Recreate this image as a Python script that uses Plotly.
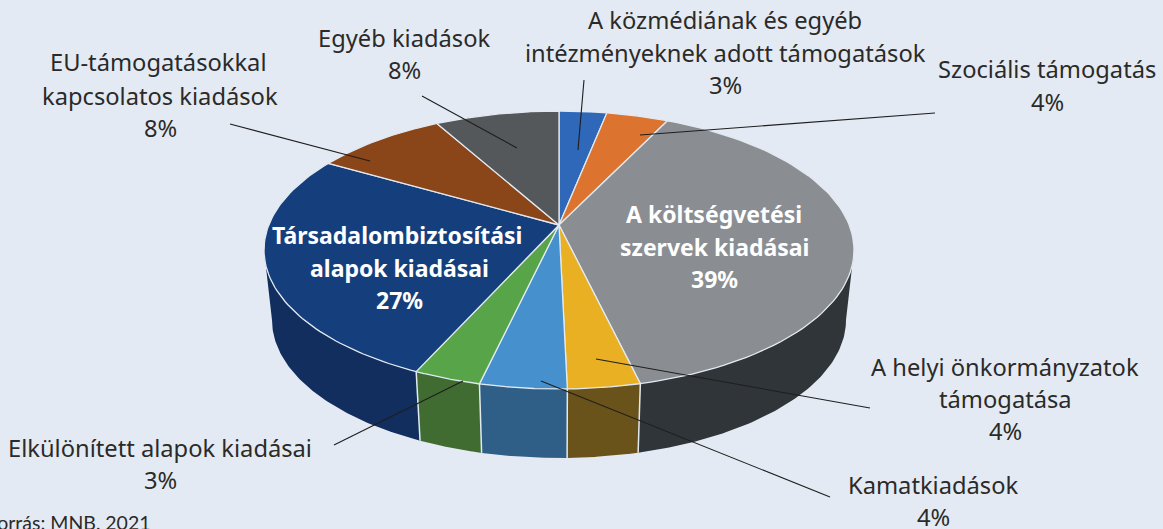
import numpy as np
import plotly.graph_objects as go

categories = ["A közmédiának és egyéb intézményeknek adott támogatások", "Szociális támogatás",
              "A költségvetési szervek kiadásai", "A helyi önkormányzatok támogatása", "Kamatkiadások",
              "Elkülönített alapok kiadásai", "Társadalombiztosítási alapok kiadásai",
              "EU-támogatásokkal kapcsolatos kiadások", "Egyéb kiadások"]
printed_percent = [3, 4, 39, 4, 4, 3, 27, 8, 8]
# slice sizes as they appear in the drawing (perspective shifts them a little from the printed values)
drawn_share = [2.6, 3.4, 39.6, 4.0, 4.8, 3.7, 27.7, 7.5, 6.8]
top_colors = ["#2F67B9", "#DC7430", "#8A8E93", "#E8B022", "#4690CE", "#58A549", "#153F7C", "#8A4519", "#54585B"]
side_colors = ["#1C3E70", "#84461D", "#2F3539", "#69531A", "#2F5F87", "#406C31", "#122E5E", "#532A11", "#323537"]

BG = "#E4EAF3"
INK = "#2B2A29"
SEP = "#E2E9F0"
CX, CY, RX, RY = 559, 250, 295, 139          # top ellipse
APEX = (559, 225)                            # perspective centre of the pie
BX, BY, BRX, BRY = 559, 320, 287, 138        # bottom ellipse

def top_pt(t):
    t = np.radians(t)
    return CX + RX * np.sin(t), CY - RY * np.cos(t)

def bot_pt(t):
    t = np.radians(t)
    return BX + BRX * np.sin(t), BY - BRY * np.cos(t)

edges = np.concatenate([[0], np.cumsum(drawn_share)]) / sum(drawn_share) * 360

fig = go.Figure()

# side walls (only the front half is visible)
for a, b, col in zip(edges[:-1], edges[1:], side_colors):
    a2, b2 = max(a, 90), min(b, 270)
    if a2 >= b2:
        continue
    t = np.linspace(a2, b2, 80)
    x1, y1 = top_pt(t)
    x2, y2 = bot_pt(t[::-1])
    fig.add_trace(go.Scatter(x=np.r_[x1, x2], y=np.r_[y1, y2], mode="lines", fill="toself",
                             fillcolor=col, line=dict(width=0), hoverinfo="skip", showlegend=False))

# light seams between the wall pieces
for e in edges[1:-1]:
    if 90 < e < 270:
        x1, y1 = top_pt(e)
        x2, y2 = bot_pt(e)
        fig.add_trace(go.Scatter(x=[x1, x2], y=[y1, y2], mode="lines", line=dict(color=SEP, width=1.5),
                                 hoverinfo="skip", showlegend=False))

# top faces
for a, b, col, name in zip(edges[:-1], edges[1:], top_colors, categories):
    t = np.linspace(a, b, 80)
    x, y = top_pt(t)
    fig.add_trace(go.Scatter(x=np.r_[APEX[0], x, APEX[0]], y=np.r_[APEX[1], y, APEX[1]], mode="lines",
                             fill="toself", fillcolor=col, line=dict(color=SEP, width=1.3),
                             name=name, showlegend=False))

ann = []
def txt(s, x, y, size=23.7, color=INK, weight=400, xanchor="center", family="Noto Sans"):
    ann.append(dict(x=x, y=y, text=s, showarrow=False, xanchor=xanchor, yanchor="middle",
                    font=dict(family=family, size=size, color=color, weight=weight), xref="x", yref="y"))

p = [f"{v}%" for v in printed_percent]
for s, x, y in [("A közmédiának és egyéb", 725, 20), ("intézményeknek adott támogatások", 725, 53), (p[0], 725, 85),
                ("Szociális támogatás", 1047, 69), (p[1], 1047, 102),
                ("A helyi önkormányzatok", 1005, 367), ("támogatása", 1005, 399), (p[3], 1005, 431),
                ("Kamatkiadások", 933, 485), (p[4], 933, 517),
                ("Elkülönített alapok kiadásai", 160, 448), (p[5], 160, 480),
                ("EU-támogatásokkal", 158, 62), ("kapcsolatos kiadások", 160, 96), (p[7], 160, 128),
                ("Egyéb kiadások", 404, 38), (p[8], 404, 70)]:
    txt(s, x, y)
for s, x, y in [("A költségvetési", 714, 214), ("szervek kiadásai", 714, 247), (p[2], 714, 279),
                ("Társadalombiztosítási", 397, 235), ("alapok kiadásai", 399, 268), (p[6], 399, 300)]:
    txt(s, x, y, size=23, color="#FFFFFF", weight=700)
txt("Forrás: MNB, 2021", 153, 522, size=19.5, xanchor="right", family="Lato")

leaders = [((584, 80), (578, 150)), ((935, 113), (640, 135)), ((422, 96), (517, 148)), ((230, 124), (370, 161)),
           ((870, 408), (596, 359)), ((830, 497), (541, 381)), ((334, 445), (463, 381))]
shapes = [dict(type="line", xref="x", yref="y", x0=a[0], y0=a[1], x1=b[0], y1=b[1],
               line=dict(color="#1E1E1E", width=1.1), layer="above") for a, b in leaders]

fig.update_layout(width=1163, height=529, margin=dict(l=0, r=0, t=0, b=0), paper_bgcolor=BG, plot_bgcolor=BG,
                  xaxis=dict(range=[0, 1163], visible=False, fixedrange=True),
                  yaxis=dict(range=[529, 0], visible=False, fixedrange=True),
                  annotations=ann, shapes=shapes, showlegend=False)
fig.write_html("out.html", config=dict(displayModeBar=False),
               post_script="document.body.style.margin='0';document.documentElement.style.overflow='hidden';")
